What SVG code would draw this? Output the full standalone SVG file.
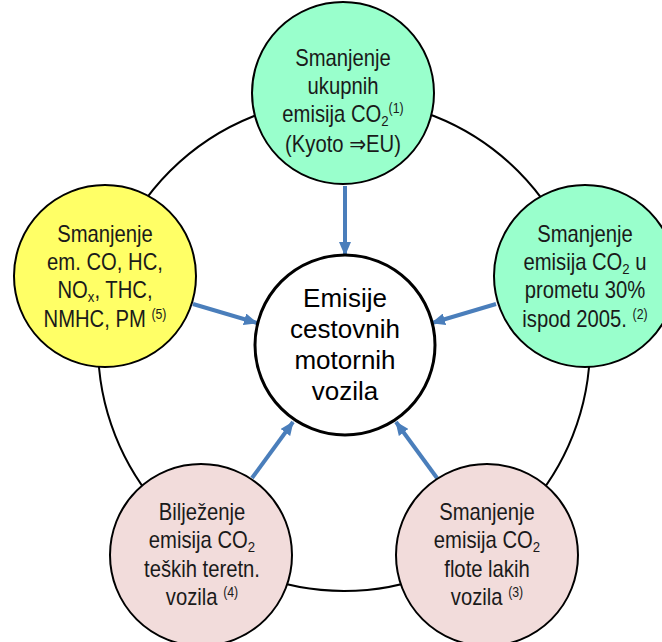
<svg xmlns="http://www.w3.org/2000/svg" width="662" height="642" viewBox="0 0 662 642">
<defs>
<style>
.t{font-family:"Liberation Sans",Arial,"DejaVu Sans",sans-serif;font-size:23px;fill:#1a1a1a;text-anchor:middle}
.c{font-size:26px;fill:#000}
.sub{font-size:15px}
.sup{font-size:14px}
.node{stroke:#000;stroke-width:2}
.green{fill:#99FFCC}
.yellow{fill:#FFFF66}
.pink{fill:#F2DCDB}
.arrow{stroke:#4A7EBB;stroke-width:4;fill:none;marker-end:url(#ah)}
</style>
<marker id="ah" markerUnits="userSpaceOnUse" viewBox="0 0 14 12" markerWidth="14" markerHeight="12" refX="13" refY="6" orient="auto">
<path d="M0,0 L14,6 L0,12 z" fill="#4A7EBB"/>
</marker>
</defs>
<rect width="662" height="642" fill="#fff"/>
<g id="ring">
<circle cx="344" cy="345" r="246" fill="none" stroke="#000" stroke-width="2"/>
</g>
<g id="connectors">
<line class="arrow" x1="345" y1="186" x2="345" y2="255"/>
<line class="arrow" x1="193" y1="304" x2="257" y2="323"/>
<line class="arrow" x1="496" y1="304" x2="432" y2="323"/>
<line class="arrow" x1="252" y1="478" x2="293" y2="422"/>
<line class="arrow" x1="437" y1="478" x2="396" y2="422"/>
</g>
<g id="center">
<circle cx="345" cy="345" r="90" fill="#fff" stroke="#000" stroke-width="3"/>
<g transform="matrix(1.0 0 0 1 345 0)">
<text class="t c" x="0" y="307">Emisije</text>
<text class="t c" x="0" y="338">cestovnih</text>
<text class="t c" x="0" y="369">motornih</text>
<text class="t c" x="0" y="400">vozila</text>
</g>
</g>
<g id="node1">
<circle class="node green" cx="343" cy="93" r="91"/>
<g transform="matrix(0.88 0 0 1 343 0)">
<text class="t" x="0" y="66">Smanjenje</text>
<text class="t" x="0" y="94">ukupnih</text>
<text class="t" x="0" y="122">emisija CO<tspan class="sub" dy="4">2</tspan><tspan class="sup" dy="-13">(1)</tspan></text>
<text class="t" x="0" y="152">(Kyoto ⇒EU)</text>
</g>
</g>
<g id="node2">
<circle class="node green" cx="585" cy="276" r="91"/>
<g transform="matrix(0.88 0 0 1 585 0)">
<text class="t" x="0" y="242">Smanjenje</text>
<text class="t" x="0" y="270">emisija CO<tspan class="sub" dy="4">2</tspan><tspan dy="-4"> u</tspan></text>
<text class="t" x="0" y="298">prometu 30%</text>
<text class="t" x="0" y="327">ispod 2005. <tspan class="sup" dy="-8">(2)</tspan></text>
</g>
</g>
<g id="node3">
<circle class="node pink" cx="487" cy="555" r="91"/>
<g transform="matrix(0.88 0 0 1 487 0)">
<text class="t" x="0" y="520">Smanjenje</text>
<text class="t" x="0" y="548">emisija CO<tspan class="sub" dy="4">2</tspan></text>
<text class="t" x="0" y="577">flote lakih</text>
<text class="t" x="0" y="605">vozila <tspan class="sup" dy="-8">(3)</tspan></text>
</g>
</g>
<g id="node4">
<circle class="node pink" cx="201" cy="555" r="91"/>
<g transform="matrix(0.88 0 0 1 202 0)">
<text class="t" x="0" y="520">Bilježenje</text>
<text class="t" x="0" y="548">emisija CO<tspan class="sub" dy="4">2</tspan></text>
<text class="t" x="0" y="577">teških teretn.</text>
<text class="t" x="0" y="605">vozila <tspan class="sup" dy="-8">(4)</tspan></text>
</g>
</g>
<g id="node5">
<circle class="node yellow" cx="105" cy="276" r="91"/>
<g transform="matrix(0.88 0 0 1 105 0)">
<text class="t" x="0" y="242">Smanjenje</text>
<text class="t" x="0" y="270">em. CO, HC,</text>
<text class="t" x="0" y="298">NO<tspan class="sub" dy="4">x</tspan><tspan dy="-4">, THC,</tspan></text>
<text class="t" x="0" y="327">NMHC, PM <tspan class="sup" dy="-8">(5)</tspan></text>
</g>
</g>
</svg>
